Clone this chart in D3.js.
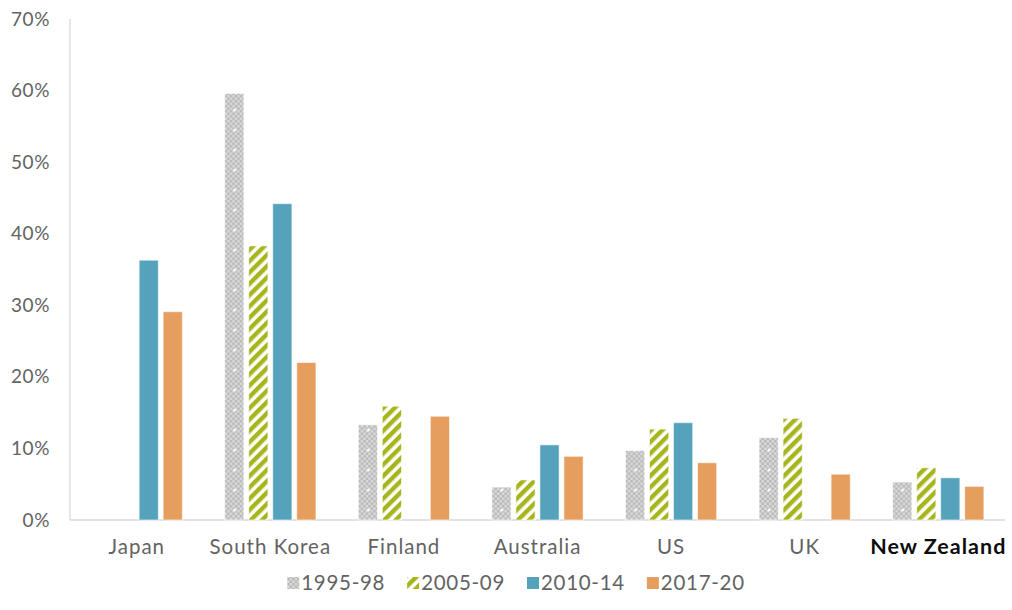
<!DOCTYPE html>
<html>
<head>
<meta charset="utf-8">
<script src="https://cdn.jsdelivr.net/npm/d3@7"></script>
<style>
  html, body { margin: 0; padding: 0; background: #fff; }
  svg { display: block; font-family: Lato, "Open Sans", sans-serif; }
</style>
</head>
<body>
<svg id="chart" width="1012" height="610"></svg>
<script>
// Countries along the x axis
const countries = ["Japan", "South Korea", "Finland", "Australia", "US", "UK", "New Zealand"];
// Period series (percent); null = no data for that period
const periods = ["1995-98", "2005-09", "2010-14", "2017-20"];
const v1995 = [null, 59.6, 13.3, 4.6, 9.7, 11.5, 5.3];
const v2005 = [null, 38.3, 15.9, 5.6, 12.7, 14.2, 7.3];
const v2010 = [36.3, 44.2, null, 10.5, 13.6, null, 5.9];
const v2017 = [29.1, 22.0, 14.5, 8.9, 8.0, 6.4, 4.7];
const seriesValues = [v1995, v2005, v2010, v2017];
const yTicks = [0, 10, 20, 30, 40, 50, 60, 70];

const svg = d3.select("#chart");
const margin = { left: 70, right: 1005, top: 19, bottom: 520 };
const textColor = "#636363";

// Fill patterns
const defs = svg.append("defs");
const check = defs.append("pattern").attr("id", "pat-check")
  .attr("patternUnits", "userSpaceOnUse").attr("width", 5).attr("height", 5);
check.append("rect").attr("width", 5).attr("height", 5).attr("fill", "#dadada");
check.append("rect").attr("width", 2.5).attr("height", 2.5).attr("fill", "#b9b9b9");
check.append("rect").attr("x", 2.5).attr("y", 2.5).attr("width", 2.5).attr("height", 2.5).attr("fill", "#b9b9b9");

const dots = defs.append("pattern").attr("id", "pat-dots")
  .attr("patternUnits", "userSpaceOnUse").attr("width", 20).attr("height", 20);
dots.append("circle").attr("cx", 10).attr("cy", 10).attr("r", 1.5).attr("fill", "#ffffff").attr("opacity", 0.95);

const stripe = defs.append("pattern").attr("id", "pat-stripe")
  .attr("patternUnits", "userSpaceOnUse").attr("width", 8).attr("height", 8)
  .attr("patternTransform", "rotate(45)");
stripe.append("rect").attr("width", 8).attr("height", 8).attr("fill", "#ffffff");
stripe.append("rect").attr("width", 4.4).attr("height", 8).attr("fill", "#a7b51c");

const fills = ["url(#pat-check)", "url(#pat-stripe)", "#55a2bd", "#e59e5e"];

const x0 = d3.scaleBand().domain(countries).range([margin.left, margin.right]).paddingInner(0.317).paddingOuter(0.158);
const x1 = d3.scaleBand().domain(periods).range([0, x0.bandwidth()]).paddingInner(0.2);
const y = d3.scaleLinear().domain([0, 70]).range([margin.bottom, margin.top]);

// Axes lines
svg.append("line").attr("x1", margin.left).attr("x2", margin.left)
  .attr("y1", y(70)).attr("y2", y(0)).attr("stroke", "#d9d9d9").attr("stroke-width", 1.3);
svg.append("line").attr("x1", margin.left).attr("x2", margin.right)
  .attr("y1", y(0)).attr("y2", y(0)).attr("stroke", "#d9d9d9").attr("stroke-width", 1.3);

// Y tick labels
const yAxis = d3.axisLeft(y).tickValues(yTicks).tickFormat(d => d + "%").tickSize(0).tickPadding(20);
const gy = svg.append("g").attr("transform", `translate(${margin.left},0)`).call(yAxis);
gy.select(".domain").remove();
gy.selectAll("text").attr("fill", textColor).style("font-size", "19px")
  .style("letter-spacing", "0.6px")
  .style("font-family", "Lato, 'Open Sans', sans-serif");

// X labels
const gx = svg.append("g").attr("transform", `translate(0,${y(0)})`)
  .call(d3.axisBottom(x0).tickSize(0).tickPadding(19));
gx.select(".domain").remove();
gx.selectAll("text").attr("fill", d => d === "New Zealand" ? "#0d0d0d" : textColor)
  .style("font-weight", d => d === "New Zealand" ? "bold" : "normal")
  .style("letter-spacing", "1px")
  .style("font-size", d => d === "New Zealand" ? "21.5px" : "20.5px")
  .style("font-family", "Lato, 'Open Sans', sans-serif");

// Bars
const groups = svg.append("g").selectAll("g").data(countries).join("g")
  .attr("transform", d => `translate(${x0(d)},0)`);
const barData = (c, ci) => periods.map((p, pi) => ({ p, pi, v: seriesValues[pi][ci] })).filter(d => d.v !== null);
groups.each(function (c, ci) {
  const g = d3.select(this);
  const data = barData(c, ci);
  g.selectAll("rect.bar").data(data).join("rect").attr("class", "bar")
    .attr("x", d => x1(d.p)).attr("width", x1.bandwidth())
    .attr("y", d => y(d.v)).attr("height", d => y(0) - y(d.v))
    .attr("fill", d => fills[d.pi])
    .attr("stroke", "#ffffff").attr("stroke-opacity", 0.6).attr("stroke-width", 1);
  g.selectAll("rect.dots").data(data.filter(d => d.pi === 0)).join("rect").attr("class", "dots")
    .attr("x", d => x1(d.p)).attr("width", x1.bandwidth())
    .attr("y", d => y(d.v)).attr("height", d => y(0) - y(d.v))
    .attr("fill", "url(#pat-dots)");
});

// Legend: swatch + label, laid out from measured label widths and centred
const legend = svg.append("g").attr("transform", "translate(0,583)");
const items = legend.selectAll("g").data(periods).join("g");
items.append("rect").attr("x", 0).attr("y", -6).attr("width", 12).attr("height", 12)
  .attr("fill", (d, i) => fills[i]);
items.append("text").attr("x", 14).attr("y", 0).attr("dy", "0.36em")
  .attr("fill", textColor).style("font-size", "20.5px").style("letter-spacing", "0.7px").text(d => d);
let cursor = 0;
const offsets = [];
items.each(function () {
  offsets.push(cursor);
  cursor += 14 + d3.select(this).select("text").node().getComputedTextLength() + 22;
});
const total = cursor - 22;
const startX = 516 - total / 2;
items.attr("transform", (d, i) => `translate(${startX + offsets[i]},0)`);
</script>
</body>
</html>
